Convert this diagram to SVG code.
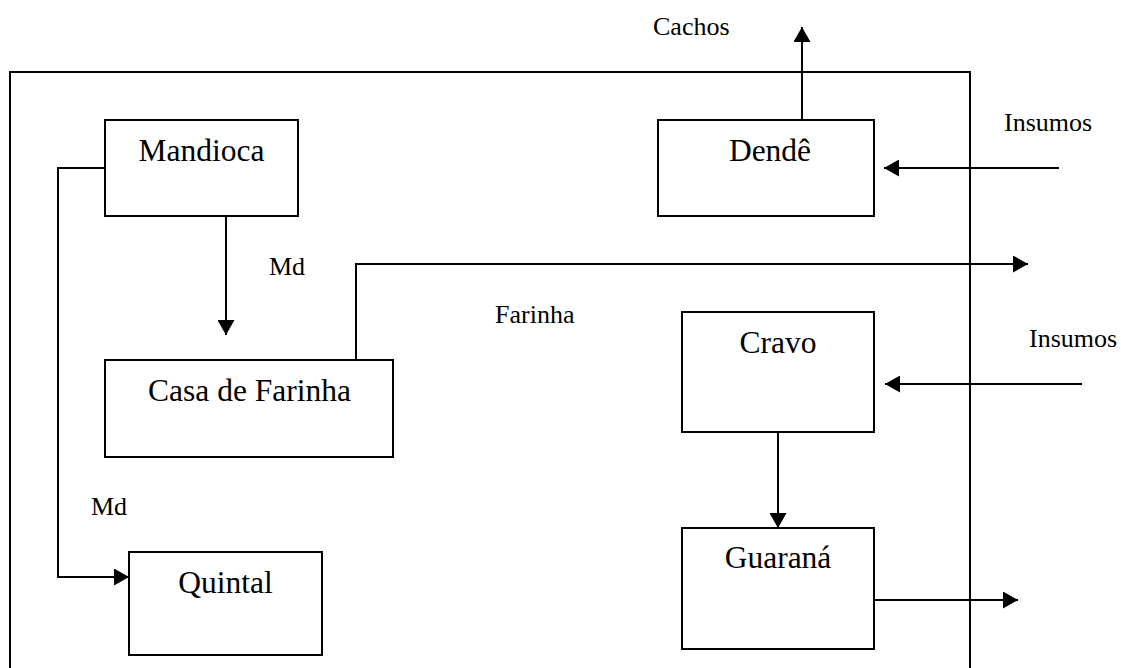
<svg xmlns="http://www.w3.org/2000/svg" width="1121" height="668" viewBox="0 0 1121 668">
  <style>
    .box { fill: #ffffff; stroke: #000000; stroke-width: 2; }
    .frame { fill: none; stroke: #000000; stroke-width: 2; }
    .conn { fill: none; stroke: #000000; stroke-width: 2; }
    text { font-family: 'Liberation Serif', 'DejaVu Serif', 'Times New Roman', Times, serif; fill: #000000; }
    .big { font-size: 31.5px; text-anchor: middle; }
    .small { font-size: 26px; }
  </style>
  <defs>
    <marker id="arrow" markerUnits="userSpaceOnUse" markerWidth="16" markerHeight="17" refX="15" refY="8.5" orient="auto" viewBox="0 0 16 17">
      <path d="M0,0 L15,8.5 L0,17 z" fill="#000000"/>
    </marker>
  </defs>
  <rect width="1121" height="668" fill="#ffffff"/>

  <!-- system boundary (open at the bottom edge) -->
  <path class="frame" d="M10,668 L10,72 L970,72 L970,668"/>

  <g id="connectors">
    <!-- Dendê: Cachos out -->
    <path class="conn" d="M802,120 L802,27" marker-end="url(#arrow)"/>
    <!-- Insumos into Dendê -->
    <path class="conn" d="M1059,168 L884,168" marker-end="url(#arrow)"/>
    <!-- Mandioca to Casa de Farinha -->
    <path class="conn" d="M226,216 L226,335" marker-end="url(#arrow)"/>
    <!-- Mandioca to Quintal -->
    <path class="conn" d="M105,168 L58,168 L58,577 L129,577" marker-end="url(#arrow)"/>
    <!-- Farinha out -->
    <path class="conn" d="M356,360 L356,264 L1028,264" marker-end="url(#arrow)"/>
    <!-- Insumos into Cravo -->
    <path class="conn" d="M1082,384 L885,384" marker-end="url(#arrow)"/>
    <!-- Cravo to Guaraná -->
    <path class="conn" d="M778,432 L778,528" marker-end="url(#arrow)"/>
    <!-- Guaraná out -->
    <path class="conn" d="M874,600 L1018,600" marker-end="url(#arrow)"/>
  </g>

  <g id="mandioca">
    <rect class="box" x="105" y="120" width="193" height="96"/>
    <text class="big" x="201.5" y="161" font-family="Liberation Serif, serif">Mandioca</text>
  </g>
  <g id="dende">
    <rect class="box" x="658" y="120" width="216" height="96"/>
    <text class="big" x="770" y="161">Dendê</text>
  </g>
  <g id="casa-de-farinha">
    <rect class="box" x="105" y="360" width="288" height="97"/>
    <text class="big" x="249.5" y="401">Casa de Farinha</text>
  </g>
  <g id="cravo">
    <rect class="box" x="682" y="312" width="192" height="120"/>
    <text class="big" x="778" y="353">Cravo</text>
  </g>
  <g id="guarana">
    <rect class="box" x="682" y="528" width="192" height="121"/>
    <text class="big" x="778" y="568">Guaraná</text>
  </g>
  <g id="quintal">
    <rect class="box" x="129" y="552" width="193" height="103"/>
    <text class="big" x="225.5" y="593">Quintal</text>
  </g>

  <g id="labels">
    <text class="small" x="653" y="35">Cachos</text>
    <text class="small" x="1004" y="131">Insumos</text>
    <text class="small" x="269" y="275">Md</text>
    <text class="small" x="495" y="323">Farinha</text>
    <text class="small" x="1029" y="347">Insumos</text>
    <text class="small" x="91" y="515">Md</text>
  </g>
</svg>
